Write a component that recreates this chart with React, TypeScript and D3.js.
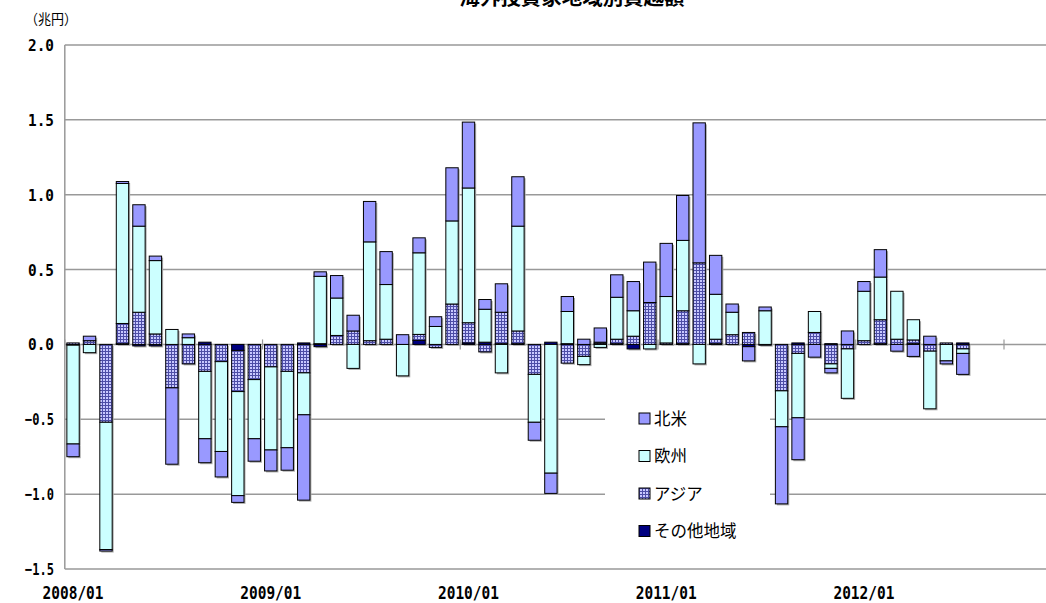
import React from "react";
import * as d3 from "d3";

// monthly categories on the x axis (the axis runs two months past the data)
const months = [
  "2008/01", "2008/02", "2008/03", "2008/04", "2008/05", "2008/06",
  "2008/07", "2008/08", "2008/09", "2008/10", "2008/11", "2008/12",
  "2009/01", "2009/02", "2009/03", "2009/04", "2009/05", "2009/06",
  "2009/07", "2009/08", "2009/09", "2009/10", "2009/11", "2009/12",
  "2010/01", "2010/02", "2010/03", "2010/04", "2010/05", "2010/06",
  "2010/07", "2010/08", "2010/09", "2010/10", "2010/11", "2010/12",
  "2011/01", "2011/02", "2011/03", "2011/04", "2011/05", "2011/06",
  "2011/07", "2011/08", "2011/09", "2011/10", "2011/11", "2011/12",
  "2012/01", "2012/02", "2012/03", "2012/04", "2012/05", "2012/06",
  "2012/07", "2012/08", "2012/09",
];

// 兆円
const otherRegion = [
  -0.005, 0, 0, 0.005, -0.01, -0.01, 0, 0, 0.015, 0, -0.04, 0,
  0, 0, 0.01, -0.015, 0, 0, 0, 0, 0, 0.027, 0, 0,
  0.01, 0.015, 0.005, 0.005, 0, 0.015, 0.005, 0, 0.005, 0.005, -0.03, 0,
  0, 0.005, 0, 0.005, 0, -0.015, -0.005, 0, 0.01, 0, 0.005, 0,
  0, 0.005, 0, 0.005, 0, 0, 0.01,
];
const asia = [
  0.01, 0.025, -0.52, 0.135, 0.215, 0.07, -0.29, -0.13, -0.18, -0.115, -0.275, -0.235,
  -0.15, -0.18, -0.19, 0.005, 0.06, 0.09, 0.025, 0.035, 0, 0.04, -0.02, 0.27,
  0.135, -0.05, 0.21, 0.085, -0.2, 0, -0.125, -0.08, 0.01, 0.03, 0.055, 0.28,
  0.01, 0.22, 0.545, 0.03, 0.065, 0.08, 0, -0.31, -0.06, 0.08, -0.13, -0.03,
  0.025, 0.16, 0.035, 0.025, -0.045, 0.01, -0.03,
];
const europe = [
  -0.66, -0.055, -0.85, 0.935, 0.575, 0.49, 0.1, 0.045, -0.45, -0.6, -0.695, -0.395,
  -0.555, -0.51, -0.28, 0.45, 0.25, -0.16, 0.66, 0.365, -0.21, 0.545, 0.12, 0.555,
  0.9, 0.22, -0.19, 0.7, -0.32, -0.86, 0.215, -0.055, -0.02, 0.28, 0.17, -0.03,
  0.31, 0.47, -0.13, 0.3, 0.15, 0, 0.225, -0.24, -0.43, 0.14, -0.03, -0.33,
  0.33, 0.285, 0.32, 0.135, -0.385, -0.11, -0.03,
];
const northAmerica = [
  -0.085, 0.03, -0.01, 0.013, 0.143, 0.03, -0.51, 0.025, -0.16, -0.17, -0.045, -0.15,
  -0.14, -0.15, -0.57, 0.03, 0.15, 0.105, 0.27, 0.22, 0.065, 0.1, 0.065, 0.355,
  0.44, 0.065, 0.19, 0.33, -0.12, -0.135, 0.1, 0.035, 0.095, 0.15, 0.195, 0.27,
  0.355, 0.3, 0.935, 0.26, 0.055, -0.095, 0.025, -0.515, -0.28, -0.085, -0.03, 0.09,
  0.065, 0.183, -0.045, -0.08, 0.055, -0.02, -0.14,
];

const yTicks = [2.0, 1.5, 1.0, 0.5, 0.0, -0.5, -1.0, -1.5];
const xLabels = ["2008/01", "2009/01", "2010/01", "2011/01", "2012/01"];

// stacking order from zero outwards
const seriesKeys = ["other", "asia", "europe", "na"];
const fills: Record<string, string> = {
  other: "#000080",
  asia: "url(#asiaHatch)",
  europe: "#ccffff",
  na: "#9999ff",
};
// legend top to bottom
const legendItems = [
  { key: "na", label: "北米" },
  { key: "europe", label: "欧州" },
  { key: "asia", label: "アジア" },
  { key: "other", label: "その他地域" },
];

const jp = "'Noto Sans CJK JP', sans-serif";
const mono = "'DejaVu Sans Mono', monospace";

export default function App() {
  const width = 1046;
  const height = 603;
  const left = 64.8;
  const right = 1004;
  const top = 45;
  const bottom = 569;

  const x = d3
    .scaleBand<string>()
    .domain(months)
    .range([left, right])
    .paddingInner(0.25)
    .paddingOuter(0.125);
  const y = d3.scaleLinear().domain([-1.5, 2.0]).range([bottom, top]);

  const rows = otherRegion.map((_, i) => ({
    month: months[i],
    other: otherRegion[i],
    asia: asia[i],
    europe: europe[i],
    na: northAmerica[i],
  }));

  const stacked = d3
    .stack<any>()
    .keys(seriesKeys)
    .offset(d3.stackOffsetDiverging)(rows);

  // flatten into segments so shadows can be drawn under everything
  const segments: { key: string; x: number; y: number; h: number }[] = [];
  stacked.forEach((s) => {
    s.forEach((d) => {
      const y0 = y(d[0]);
      const y1 = y(d[1]);
      const h = Math.abs(y0 - y1);
      if (h < 0.01) return;
      segments.push({
        key: s.key,
        x: x(d.data.month)!,
        y: Math.min(y0, y1),
        h,
      });
    });
  });

  const bw = x.bandwidth();
  const zero = y(0);
  const tickIdx = [0, 12, 24, 36, 48, months.length];

  return (
    <svg
      width={width}
      height={height}
      style={{ position: "absolute", left: 0, top: 0, background: "#fff" }}
    >
      <defs>
        <pattern
          id="asiaHatch"
          width="3"
          height="3"
          patternUnits="userSpaceOnUse"
        >
          <rect width="3" height="3" fill="#c8c8ff" />
          <path d="M0 0.5H3M0.5 0V3" stroke="#4d4da6" strokeWidth="1" />
        </pattern>
      </defs>

      {/* title, clipped by the top edge as in the source image */}
      <text
        x={572}
        y={5}
        textAnchor="middle"
        fontFamily={jp}
        fontWeight="bold"
        fontSize={20}
        textLength={225}
        lengthAdjust="spacingAndGlyphs"
      >
        海外投資家地域別買越額
      </text>

      <text x={25} y={24} fontFamily={jp} fontSize={14} textLength={52} lengthAdjust="spacingAndGlyphs">
        （兆円）
      </text>

      {/* gridlines */}
      {yTicks.map((t) => (
        <line
          key={t}
          x1={left}
          x2={width}
          y1={y(t)}
          y2={y(t)}
          stroke="#999"
          strokeWidth={1.5}
        />
      ))}
      <line x1={left} x2={left} y1={top} y2={bottom} stroke="#999" strokeWidth={1.5} />

      {/* y tick labels */}
      {yTicks.map((t) => (
        <text
          key={t}
          x={54}
          y={y(t) + 6}
          textAnchor="end"
          fontFamily={mono}
          fontWeight="bold"
          fontSize={16.5}
          textLength={t < 0 ? 29 : 26}
          lengthAdjust="spacingAndGlyphs"
        >
          {d3.format(".1f")(t)}
        </text>
      ))}

      {/* bar shadows */}
      {segments.map((s, i) => (
        <rect
          key={"sh" + i}
          x={s.x + 1.5}
          y={s.y + 1.5}
          width={bw}
          height={s.h}
          fill="#aaa"
        />
      ))}
      {segments.map((s, i) => (
        <rect
          key={"b" + i}
          x={s.x}
          y={s.y}
          width={bw}
          height={s.h}
          fill={fills[s.key]}
          stroke="#000"
          strokeWidth={1}
        />
      ))}

      {/* zero axis ticks every 12 months */}
      {tickIdx.map((i) => (
        <line
          key={"t" + i}
          x1={left + i * x.step()}
          x2={left + i * x.step()}
          y1={zero - 5}
          y2={zero + 5}
          stroke="#999"
          strokeWidth={1.2}
        />
      ))}

      {/* x labels */}
      {xLabels.map((m) => (
        <text
          key={m}
          x={x(m)! + bw / 2}
          y={599}
          textAnchor="middle"
          fontFamily={mono}
          fontWeight="bold"
          fontSize={17.5}
          textLength={61}
          lengthAdjust="spacingAndGlyphs"
        >
          {m}
        </text>
      ))}

      {/* legend */}
      <rect x={605} y={398} width={165} height={155} fill="#fff" />
      {legendItems.map((it, i) => (
        <g key={it.key} transform={`translate(639, ${413 + i * 37.5})`}>
          <rect width={11} height={11} fill={fills[it.key]} stroke="#000" strokeWidth={1} />
          <text x={15} y={11.5} fontFamily={jp} fontSize={16.5}>
            {it.label}
          </text>
        </g>
      ))}
    </svg>
  );
}
